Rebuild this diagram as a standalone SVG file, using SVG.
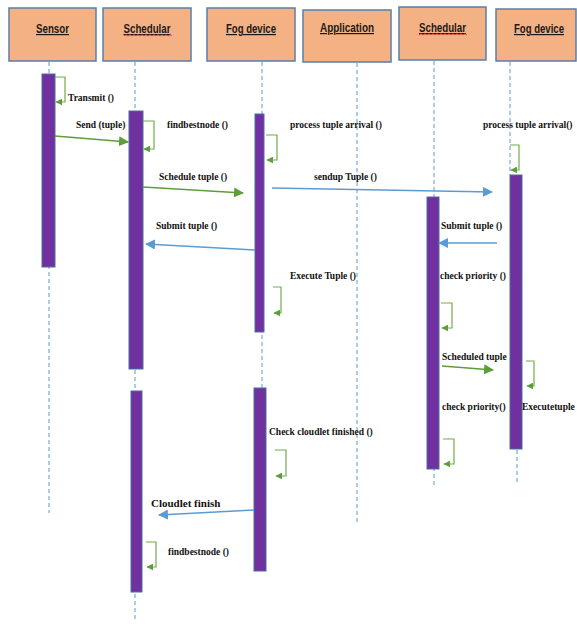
<svg xmlns="http://www.w3.org/2000/svg" width="577" height="626" viewBox="0 0 577 626">
<defs>
<marker id="ag" viewBox="0 0 10 10" refX="9" refY="5" markerWidth="7" markerHeight="7" orient="auto" markerUnits="userSpaceOnUse"><path d="M0,0 L10,5 L0,10 z" fill="#5E9E3A"/></marker>
<marker id="agl" viewBox="0 0 10 10" refX="9" refY="5" markerWidth="10" markerHeight="10" orient="auto" markerUnits="userSpaceOnUse"><path d="M0,0 L10,5 L0,10 z" fill="#5E9E3A"/></marker>
<marker id="ab" viewBox="0 0 10 10" refX="9" refY="5" markerWidth="10" markerHeight="10" orient="auto" markerUnits="userSpaceOnUse"><path d="M0,0 L10,5 L0,10 z" fill="#5B9BD5"/></marker>
</defs>
<style>
.box{fill:#F4B183;stroke:#5A7FA8;stroke-width:1.5}
.ht{font-family:"Liberation Sans",Arial,sans-serif;font-weight:bold;font-size:12px;fill:#1a1a1a;text-anchor:middle;text-decoration:underline}
.life{stroke:#5B9BD5;stroke-width:1;stroke-dasharray:4,3;fill:none}
.bar{fill:#7030A0;stroke:#4A6FA0;stroke-width:1}
.lbl{font-family:"Liberation Serif","Times New Roman",serif;font-weight:bold;font-size:9.5px;fill:#111}
.loop{fill:none;stroke:#70AD47;stroke-width:1.2;marker-end:url(#ag)}
.gm{fill:none;stroke:#5E9E3A;stroke-width:1.4;marker-end:url(#agl)}
.bm{fill:none;stroke:#5B9BD5;stroke-width:1.4;marker-end:url(#ab)}
</style>
<rect width="577" height="626" fill="#fff"/>

<g id="sensor">
<rect class="box" x="9" y="8" width="87" height="53"/>
<text class="ht" x="52.5" y="33" textLength="33" lengthAdjust="spacingAndGlyphs">Sensor</text>
<line class="life" x1="49" y1="62" x2="49" y2="513"/>
<rect class="bar" x="42" y="74" width="13" height="193"/>
</g>
<g id="schedular1">
<rect class="box" x="103" y="8" width="88" height="53"/>
<text class="ht" x="147" y="33" textLength="47" lengthAdjust="spacingAndGlyphs">Schedular</text>
<path d="M124,36 l2,-1.5 l2,1.5 l2,-1.5 l2,1.5 l2,-1.5 l2,1.5 l2,-1.5 l2,1.5 l2,-1.5 l2,1.5 l2,-1.5 l2,1.5 l2,-1.5 l2,1.5 l2,-1.5 l2,1.5 l2,-1.5 l2,1.5 l2,-1.5 l2,1.5 l2,-1.5 l2,1.5 l2,-1.5 l2,1.5" fill="none" stroke="#E03030" stroke-width="0.8"/>
<line class="life" x1="135" y1="62" x2="135" y2="622"/>
<rect class="bar" x="129" y="111" width="14" height="258"/>
<rect class="bar" x="131" y="391" width="11" height="201"/>
</g>
<g id="fog1">
<rect class="box" x="207" y="8" width="88" height="53"/>
<text class="ht" x="251" y="33" textLength="50" lengthAdjust="spacingAndGlyphs">Fog device</text>
<line class="life" x1="262" y1="62" x2="262" y2="571"/>
<rect class="bar" x="255" y="114" width="9" height="218"/>
<rect class="bar" x="254" y="388" width="12" height="183"/>
</g>
<g id="application">
<rect class="box" x="303" y="10" width="88" height="52"/>
<text class="ht" x="347" y="32" textLength="54" lengthAdjust="spacingAndGlyphs">Application</text>
<line class="life" x1="357" y1="63" x2="357" y2="522"/>
</g>
<g id="schedular2">
<rect class="box" x="399" y="7" width="87" height="53"/>
<text class="ht" x="442.5" y="32" textLength="47" lengthAdjust="spacingAndGlyphs">Schedular</text>
<path d="M419,35 l2,-1.5 l2,1.5 l2,-1.5 l2,1.5 l2,-1.5 l2,1.5 l2,-1.5 l2,1.5 l2,-1.5 l2,1.5 l2,-1.5 l2,1.5 l2,-1.5 l2,1.5 l2,-1.5 l2,1.5 l2,-1.5 l2,1.5 l2,-1.5 l2,1.5 l2,-1.5 l2,1.5 l2,-1.5 l2,1.5" fill="none" stroke="#E03030" stroke-width="0.8"/>
<line class="life" x1="434" y1="61" x2="434" y2="488"/>
<rect class="bar" x="427" y="197" width="12" height="272"/>
</g>
<g id="fog2">
<rect class="box" x="496" y="9" width="80" height="52"/>
<text class="ht" x="539" y="33" textLength="50" lengthAdjust="spacingAndGlyphs">Fog device</text>
<line class="life" x1="510" y1="62" x2="510" y2="175"/>
<line class="life" x1="517" y1="450" x2="517" y2="483"/>
<rect class="bar" x="510" y="175" width="12" height="274"/>
</g>

<g id="connectors">
<path class="loop" d="M55,77 H65 V102 H56"/>
<path class="gm" d="M55,136 L128,142"/>
<path class="loop" d="M143,121 H154 V149 H144"/>
<path class="loop" d="M266,135 H277 V160 H267"/>
<path class="loop" d="M510,145 H519 V170 H511"/>
<path class="gm" d="M143,187 L243,193"/>
<path class="bm" d="M272,188 L492,192"/>
<path class="bm" d="M255,250 L146,244"/>
<path class="loop" d="M273,287 H281 V313 H274"/>
<path class="bm" d="M497,243 L439,243"/>
<path class="loop" d="M441,303 H452 V328 H442"/>
<path class="gm" d="M442,366 L493,370"/>
<path class="loop" d="M526,361 H534 V386 H527"/>
<path class="loop" d="M443,439 H454 V464 H444"/>
<path class="loop" d="M275,450 H286 V476 H276"/>
<path class="bm" d="M254,510 L159,515"/>
<path class="loop" d="M146,542 H156 V567 H147"/>
</g>

<g id="labels">
<text class="lbl" x="68" y="101">Transmit ()</text>
<text class="lbl" x="76" y="128">Send (tuple)</text>
<text class="lbl" x="167" y="128">findbestnode ()</text>
<text class="lbl" x="290" y="128">process tuple arrival ()</text>
<text class="lbl" x="483" y="128">process tuple arrival()</text>
<text class="lbl" x="159" y="180">Schedule tuple ()</text>
<text class="lbl" x="314" y="180">sendup Tuple ()</text>
<text class="lbl" x="156" y="229">Submit tuple ()</text>
<text class="lbl" x="441" y="229">Submit tuple ()</text>
<text class="lbl" x="290" y="279">Execute Tuple ()</text>
<text class="lbl" x="440" y="279">check priority ()</text>
<text class="lbl" x="442" y="360">Scheduled tuple</text>
<text class="lbl" x="442" y="410">check priority()</text>
<text class="lbl" x="522" y="410">Executetuple</text>
<text class="lbl" x="269" y="435">Check cloudlet finished ()</text>
<text class="lbl" x="151" y="507" style="font-size:11px">Cloudlet finish</text>
<text class="lbl" x="168" y="555">findbestnode ()</text>
</g>
</svg>
